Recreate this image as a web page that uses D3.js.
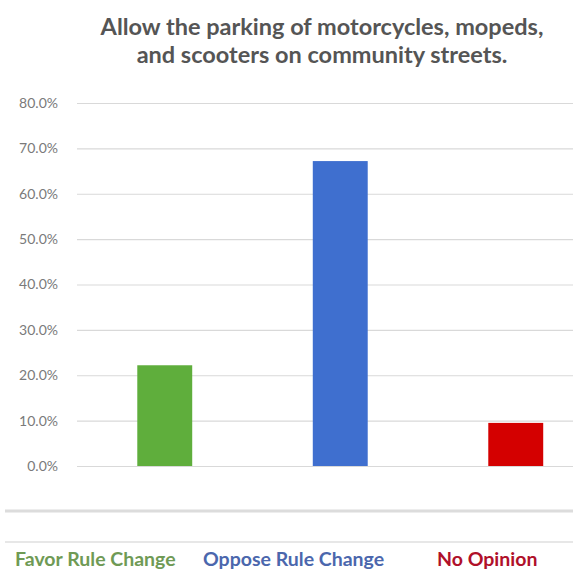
<!DOCTYPE html>
<html>
<head>
<meta charset="utf-8">
<script src="https://cdn.jsdelivr.net/npm/d3@7"></script>
<style>
  html, body { margin: 0; padding: 0; background: #fff; }
  svg { display: block; }
</style>
</head>
<body>
<div id="chart"></div>
<script>
const titleLines = ["Allow the parking of motorcycles, mopeds,", "and scooters on community streets."];
const categories = ["Favor Rule Change", "Oppose Rule Change", "No Opinion"];
const values = [0.222, 0.672, 0.095];
const colors = ["#5fae3c", "#3f6fcf", "#d40000"];
const labelColors = ["#6f9a55", "#4b67ad", "#b0102a"];
const yTicks = [0, 0.1, 0.2, 0.3, 0.4, 0.5, 0.6, 0.7, 0.8];

const W = 573, H = 582;
const svg = d3.select("#chart").append("svg").attr("width", W).attr("height", H);

const x = d3.scaleBand().domain(categories).range([77, 603.5]).paddingInner(0.687).paddingOuter(0.3435);
const y = d3.scaleLinear().domain([0, 0.8]).range([466, 103]);

// gridlines
svg.append("g")
  .attr("transform", "translate(77,0)")
  .call(d3.axisLeft(y).tickValues(yTicks).tickSize(-(W - 77)).tickFormat(d3.format(".1%")))
  .call(g => g.select(".domain").remove())
  .call(g => g.selectAll(".tick line").attr("stroke", "#d9d9d9").attr("stroke-width", 1.2))
  .call(g => g.selectAll(".tick text")
    .attr("x", -19)
    .attr("fill", "#7a7a7a")
    .style("font-family", "Lato, 'Open Sans', sans-serif")
    .style("font-size", "14px"));

// bars
svg.append("g").selectAll("rect").data(categories).join("rect")
  .attr("x", d => x(d))
  .attr("width", x.bandwidth())
  .attr("y", (d, i) => y(values[i]))
  .attr("height", (d, i) => y(0) - y(values[i]))
  .attr("fill", (d, i) => colors[i]);

// title
svg.append("g").selectAll("text").data(titleLines).join("text")
  .attr("x", 322)
  .attr("y", (d, i) => 35 + i * 28)
  .attr("text-anchor", "middle")
  .attr("fill", "#555555")
  .style("font-family", "Lato, 'Open Sans', sans-serif")
  .style("font-weight", "bold")
  .style("font-size", "23.5px")
  .text(d => d);

// bottom table-like lines
svg.append("line").attr("x1", 5).attr("x2", W).attr("y1", 511).attr("y2", 511)
  .attr("stroke", "#dcdcdc").attr("stroke-width", 3);
svg.append("line").attr("x1", 5).attr("x2", W).attr("y1", 542).attr("y2", 542)
  .attr("stroke", "#cfcfcf").attr("stroke-width", 1);

// category labels
const labelX = [15, 203, 437];
svg.append("g").selectAll("text").data(categories).join("text")
  .attr("x", (d, i) => labelX[i])
  .attr("y", 566)
  .attr("fill", (d, i) => labelColors[i])
  .style("font-family", "Lato, 'Open Sans', sans-serif")
  .style("font-weight", "bold")
  .style("font-size", "19.5px")
  .text(d => d);
</script>
</body>
</html>
